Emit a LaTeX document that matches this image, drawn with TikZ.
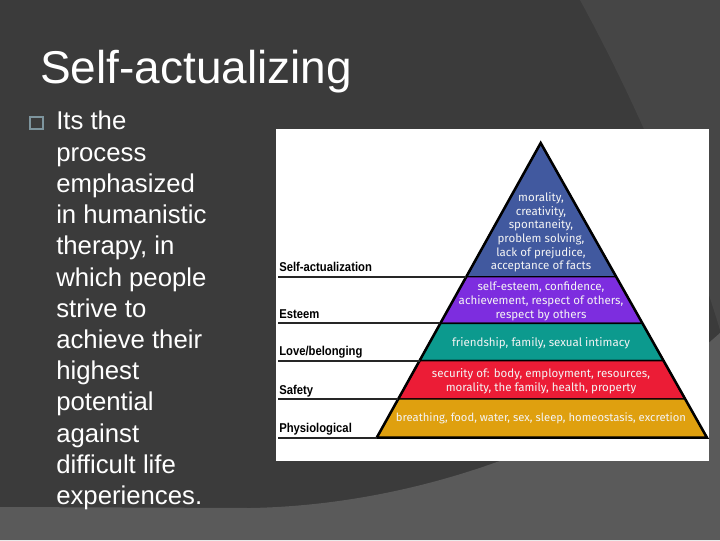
\documentclass[tikz,border=0pt]{standalone}
\usepackage{fontspec}
\setmainfont{Liberation Sans}
\newfontfamily\lvlfont[FakeStretch=0.88]{Liberation Sans}
\newfontfamily\bandfont{Fira Sans}
\usepackage{xcolor}
\usetikzlibrary{calc}

\definecolor{slidebg}{HTML}{3B3B3B}
\definecolor{slideshade}{HTML}{464646}
\definecolor{slidefoot}{HTML}{5A5A5A}
\definecolor{bulletc}{HTML}{7E959E}
\definecolor{bandblue}{HTML}{41599F}
\definecolor{bandpurple}{HTML}{7D2DDF}
\definecolor{bandteal}{HTML}{0C9A8E}
\definecolor{bandred}{HTML}{EC1C36}
\definecolor{bandorange}{HTML}{DFA00F}
\definecolor{bandwhite}{HTML}{F4F4F4}

\begin{document}
\begin{tikzpicture}[x=0.025cm,y=-0.025cm,
  bandtxt/.style={font=\bandfont\fontsize{8.2}{9.7}\selectfont,text=bandwhite,align=center,inner sep=0pt},
  lvllbl/.style={font=\lvlfont\bfseries\fontsize{9.1}{10}\selectfont,anchor=base west,inner sep=0pt},
  lvlline/.style={line width=1.2pt,draw=black!85},
  bandline/.style={draw=black,line width=1pt}]
  \useasboundingbox (0,0) rectangle (720,540);
  \fill[slidebg] (0,0) rectangle (720,540);
  \fill[slideshade] (580,0) .. controls (640,110) and (690,230) .. (720,330) -- (720,0) -- cycle;
  \fill[slidefoot] (0,507) -- (250,508) .. controls (420,505) and (600,440) .. (720,333) -- (720,540) -- (0,540) -- cycle;

  \node[anchor=base west,text=white,inner sep=0pt,font=\fontsize{32.7}{36}\selectfont] (title) at (40,83) {Self-actualizing};
  \node[draw=bulletc,line width=1.4pt,minimum size=9pt,inner sep=0pt] (bullet) at (36.5,123) {};
  \node[anchor=north west,align=left,text=white,inner sep=0pt,font=\fontsize{18.3}{22.2}\selectfont] (body) at (56,111)
    {Its the\\process\\emphasized\\in humanistic\\therapy, in\\which people\\strive to\\achieve their\\highest\\potential\\against\\difficult life\\experiences.};

  \fill[white] (276,129) rectangle (709,461);

  \coordinate (apex) at (540.7,143);
  \coordinate (bl) at (376.7,437.7);
  \coordinate (br) at (707,437.7);
  \coordinate (edge) at (278,0);
  \foreach \n/\t in {1/0.4537,2/0.6118,3/0.7387,4/0.8687} {
    \coordinate (l\n) at ($(apex)!\t!(bl)$);
    \coordinate (r\n) at ($(apex)!\t!(br)$);
  }

  \filldraw[bandline,fill=bandblue] (apex) -- (l1) -- (r1) -- cycle;
  \filldraw[bandline,fill=bandpurple] (l1) -- (l2) -- (r2) -- (r1) -- cycle;
  \filldraw[bandline,fill=bandteal] (l2) -- (l3) -- (r3) -- (r2) -- cycle;
  \filldraw[bandline,fill=bandred] (l3) -- (l4) -- (r4) -- (r3) -- cycle;
  \filldraw[bandline,fill=bandorange] (l4) -- (bl) -- (br) -- (r4) -- cycle;
  \draw[line width=1.8pt,line join=miter] (apex) -- (bl) -- (br) -- cycle;

  \draw[lvlline] (edge |- l1) -- (l1);
  \draw[lvlline] (edge |- l2) -- (l2);
  \draw[lvlline] (edge |- l3) -- (l3);
  \draw[lvlline] (edge |- l4) -- (l4);
  \draw[lvlline] (edge |- bl) -- (bl);

  \node[lvllbl] (lvl-sa) at ($(edge |- l1)+(1,-5)$) {Self-actualization};
  \node[lvllbl] (lvl-es) at ($(edge |- l2)+(1,-5)$) {Esteem};
  \node[lvllbl] (lvl-lb) at ($(edge |- l3)+(1,-5)$) {Love/belonging};
  \node[lvllbl] (lvl-sf) at ($(edge |- l4)+(1,-5)$) {Safety};
  \node[lvllbl] (lvl-ph) at ($(edge |- bl)+(1,-5)$) {Physiological};

  \node[bandtxt] (txt-sa) at (541,232.3) {morality,\\creativity,\\spontaneity,\\problem solving,\\lack of prejudice,\\acceptance of facts};
  \node[bandtxt] (txt-es) at (541,301.3) {self-esteem, confidence,\\achievement, respect of others,\\respect by others};
  \node[bandtxt] (txt-lb) at (541,343.3) {friendship, family, sexual intimacy};
  \node[bandtxt] (txt-sf) at (541,381) {security of: body, employment, resources,\\morality, the family, health, property};
  \node[bandtxt,font=\bandfont\fontsize{8}{9.7}\selectfont] (txt-ph) at (541,418.3) {breathing, food, water, sex, sleep, homeostasis, excretion};
\end{tikzpicture}
\end{document}
